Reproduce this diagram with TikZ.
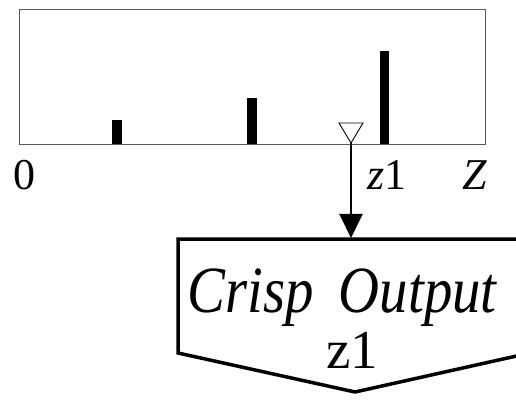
\documentclass[tikz,border=0pt]{standalone}
\usepackage{fontspec}
\setmainfont{Liberation Serif}
\usetikzlibrary{arrows.meta}
\begin{document}
\begin{tikzpicture}[x=1pt,y=-1pt,
  bar/.style={fill=black,draw=none},
  lbl/.style={inner sep=0pt,anchor=base,font=\fontsize{44}{44}\selectfont},
  blocktxt/.style={inner sep=0pt,anchor=base,font=\fontsize{55}{55}\selectfont},
  block/.style={line width=3.5pt,line join=miter},
  conn/.style={line width=2pt,-{Triangle[length=24pt,width=23pt]}}]
\useasboundingbox (0,0) rectangle (516,403);
% chart frame
\draw[gray!70!black,line width=0.9pt] (19,9) rectangle (485,144);
\fill[bar] (112,120) rectangle (122,144);
\fill[bar] (247,98) rectangle (257,144);
\fill[bar] (380,51) rectangle (389,144);
% marker triangle
\coordinate (apex) at (351,143);
\draw[line width=0.9pt,fill=white] (339,123) -- (363,123) -- (apex) -- cycle;
% axis labels
\node[lbl] (zero) at (24,190) {0};
\node[lbl,anchor=base west] (zlab) at (367,190) {\textit{z}1};
\node[lbl] (Zlab) at (475,190) {\textit{Z}};
% output block
\begin{scope}
\clip (0,0) rectangle (516,403);
\draw[block] (530,239) -- (178,239) -- (178,353) -- (355,392) -- (530,353);
\end{scope}
\coordinate (blocktop) at (351,238);
\draw[conn] (apex) -- (blocktop);
\node[blocktxt] (crisp) at (342,312) {\scalebox{0.86}[1]{\fontsize{66}{66}\selectfont\itshape Crisp\hspace{0.45em}Output}};
\node[blocktxt] (zout) at (352,368) {z1};
\end{tikzpicture}
\end{document}
